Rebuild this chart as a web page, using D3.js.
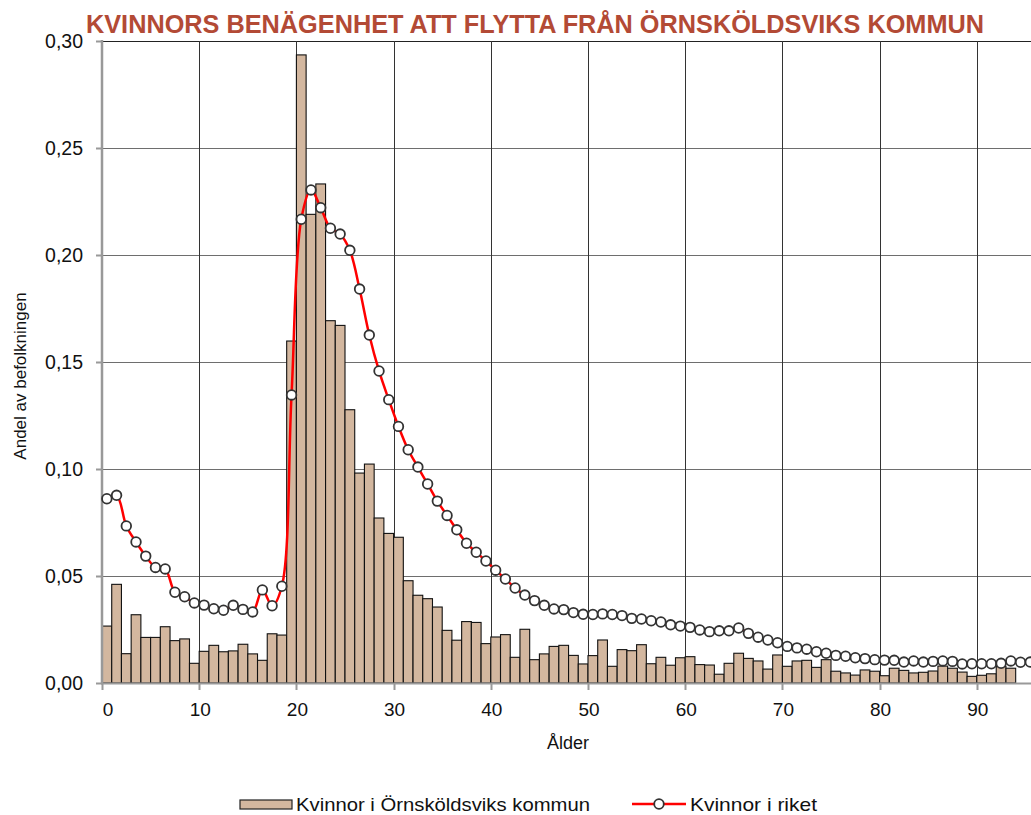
<!DOCTYPE html>
<html>
<head>
<meta charset="utf-8">
<script src="https://cdn.jsdelivr.net/npm/d3@7"></script>
<style>
  body { margin: 0; background: #fff; }
  svg { display: block; }
</style>
</head>
<body>
<div id="chart"></div>
<script>

// andel som flyttar per ålder (0-94), Örnsköldsvik
var kommun = [
    0.0266, 0.0461, 0.0137, 0.0319, 0.0213, 0.0213, 0.0263, 0.0198, 0.0206, 0.0092,
    0.0148, 0.0176, 0.0146, 0.0150, 0.0181, 0.0136, 0.0106, 0.0230, 0.0224, 0.1598,
    0.2935, 0.2190, 0.2332, 0.1693, 0.1671, 0.1277, 0.0981, 0.1023, 0.0771, 0.0699,
    0.0681, 0.0478, 0.0410, 0.0394, 0.0355, 0.0246, 0.0200, 0.0287, 0.0283, 0.0184,
    0.0215, 0.0226, 0.0120, 0.0251, 0.0109, 0.0136, 0.0171, 0.0176, 0.0129, 0.0089,
    0.0128, 0.0201, 0.0078, 0.0156, 0.0151, 0.0179, 0.0090, 0.0120, 0.0083, 0.0118,
    0.0123, 0.0086, 0.0084, 0.0041, 0.0092, 0.0139, 0.0115, 0.0103, 0.0065, 0.0131,
    0.0078, 0.0103, 0.0106, 0.0073, 0.0109, 0.0055, 0.0047, 0.0037, 0.0061, 0.0055,
    0.0034, 0.0069, 0.0059, 0.0047, 0.0050, 0.0056, 0.0079, 0.0069, 0.0051, 0,
    0.0031, 0.0036, 0.0043, 0.0078, 0.0069
];

// riket (0-95)
var riket = [
    0.0861, 0.0877, 0.0734, 0.0659, 0.0593, 0.0540, 0.0533, 0.0424, 0.0403, 0.0374,
    0.0364, 0.0347, 0.0340, 0.0363, 0.0344, 0.0332, 0.0435, 0.0361, 0.0452, 0.1346,
    0.2167, 0.2304, 0.2221, 0.2125, 0.2098, 0.2022, 0.1841, 0.1626, 0.1458, 0.1324,
    0.1199, 0.1090, 0.1009, 0.0930, 0.0850, 0.0783, 0.0716, 0.0653, 0.0611, 0.0570,
    0.0527, 0.0486, 0.0444, 0.0411, 0.0385, 0.0363, 0.0346, 0.0343, 0.0329, 0.0321,
    0.0320, 0.0323, 0.0320, 0.0315, 0.0302, 0.0299, 0.0291, 0.0285, 0.0272, 0.0266,
    0.0260, 0.0248, 0.0240, 0.0244, 0.0244, 0.0257, 0.0232, 0.0214, 0.0201, 0.0188,
    0.0171, 0.0164, 0.0158, 0.0146, 0.0139, 0.0129, 0.0125, 0.0118, 0.0114, 0.0109,
    0.0107, 0.0106, 0.0098, 0.0103, 0.0098, 0.0101, 0.0103, 0.0101, 0.0089, 0.0090,
    0.0090, 0.0090, 0.0092, 0.0103, 0.0097, 0.0098
];

var xTicks = [0, 10, 20, 30, 40, 50, 60, 70, 80, 90];
var yTicks = [0, 0.05, 0.10, 0.15, 0.20, 0.25, 0.30];

var title = "KVINNORS BENÄGENHET ATT FLYTTA FRÅN ÖRNSKÖLDSVIKS KOMMUN";
var legendNames = ["Kvinnor i Örnsköldsviks kommun", "Kvinnor i riket"];

var width = 1031, height = 815;

var svg = d3.select("#chart").append("svg")
    .attr("width", width)
    .attr("height", height)
    .style("font-family", "'Liberation Sans', Arial, sans-serif");

svg.append("rect").attr("width", width).attr("height", height).attr("fill", "#fff");

// plot area runs past the right edge, as in the original
var x = d3.scaleLinear().domain([0, 100]).range([102, 1074]);
var y = d3.scaleLinear().domain([0, 0.30]).range([683, 41]);

var fmt = function (d) { return d3.format(".2f")(d).replace(".", ","); };

// gridlines
svg.append("g")
    .selectAll("line")
    .data(yTicks.slice(1))
    .enter()
    .append("line")
    .attr("x1", x(0)).attr("x2", width)
    .attr("y1", function (d) { return Math.round(y(d)) + 0.5; })
    .attr("y2", function (d) { return Math.round(y(d)) + 0.5; })
    .attr("stroke", function (d) { return d === 0.30 ? "#222" : "#6e6e6e"; })
    .attr("stroke-width", 1);

svg.append("g")
    .selectAll("line")
    .data(xTicks.slice(1))
    .enter()
    .append("line")
    .attr("x1", function (d) { return Math.round(x(d)) + 0.5; })
    .attr("x2", function (d) { return Math.round(x(d)) + 0.5; })
    .attr("y1", y(0.30)).attr("y2", y(0))
    .attr("stroke", "#333")
    .attr("stroke-width", 1);

// bars
svg.append("g")
    .selectAll("rect")
    .data(kommun)
    .enter()
    .filter(function (d) { return d > 0; })
    .append("rect")
    .attr("x", function (d, i) { return x(i); })
    .attr("width", function (d, i) { return x(i + 1) - x(i); })
    .attr("y", function (d) { return y(d); })
    .attr("height", function (d) { return y(0) - y(d); })
    .attr("fill", "#d3b79f")
    .attr("stroke", "#111")
    .attr("stroke-width", 1.1);

// axes
var xAxis = svg.append("g").attr("transform", "translate(0," + y(0) + ")");
xAxis.append("line")
    .attr("x1", x(0) - 1).attr("x2", width)
    .attr("y1", 0.5).attr("y2", 0.5)
    .attr("stroke", "#999").attr("stroke-width", 2);
xAxis.selectAll(".tk")
    .data(xTicks)
    .enter()
    .append("line")
    .attr("class", "tk")
    .attr("x1", function (d) { return Math.round(x(d)) + 0.5; })
    .attr("x2", function (d) { return Math.round(x(d)) + 0.5; })
    .attr("y1", 0).attr("y2", 7)
    .attr("stroke", "#999").attr("stroke-width", 2);
xAxis.selectAll("text")
    .data(xTicks)
    .enter()
    .append("text")
    .attr("x", function (d) { return d === 0 ? x(d) + 6 : x(d) + 1; })
    .attr("y", 33)
    .attr("text-anchor", "middle")
    .attr("font-size", 19)
    .attr("fill", "#111")
    .text(function (d) { return d; });

var yAxis = svg.append("g");
yAxis.append("line")
    .attr("x1", x(0)).attr("x2", x(0))
    .attr("y1", y(0.30) - 1).attr("y2", y(0) + 1)
    .attr("stroke", "#999").attr("stroke-width", 2.5);
yAxis.selectAll(".tk")
    .data(yTicks)
    .enter()
    .append("line")
    .attr("class", "tk")
    .attr("x1", x(0) - 6).attr("x2", x(0))
    .attr("y1", function (d) { return Math.round(y(d)) + 0.5; })
    .attr("y2", function (d) { return Math.round(y(d)) + 0.5; })
    .attr("stroke", "#999").attr("stroke-width", 2);
yAxis.selectAll("text")
    .data(yTicks)
    .enter()
    .append("text")
    .attr("x", 83)
    .attr("y", function (d) { return y(d) + 7; })
    .attr("text-anchor", "end")
    .attr("font-size", 19.5)
    .attr("fill", "#111")
    .text(fmt);

// riket line, smoothed
var line = d3.line()
    .x(function (d, i) { return x(i + 0.5); })
    .y(function (d) { return y(d); })
    .curve(d3.curveCatmullRom.alpha(0.5));

svg.append("path")
    .datum(riket)
    .attr("d", line)
    .attr("fill", "none")
    .attr("stroke", "#ff0000")
    .attr("stroke-width", 2.5);

svg.append("g")
    .selectAll("circle")
    .data(riket)
    .enter()
    .append("circle")
    .attr("cx", function (d, i) { return x(i + 0.5); })
    .attr("cy", function (d) { return y(d); })
    .attr("r", 4.8)
    .attr("fill", "#fff")
    .attr("stroke", "#333")
    .attr("stroke-width", 1.8);

// titles
svg.append("text")
    .attr("x", 535)
    .attr("y", 33)
    .attr("text-anchor", "middle")
    .attr("font-family", "'Liberation Sans Narrow', 'Liberation Sans', Arial, sans-serif")
    .attr("font-weight", "bold")
    .attr("font-size", 26)
    .attr("fill", "#b34a35")
    .attr("textLength", 898)
    .attr("lengthAdjust", "spacingAndGlyphs")
    .text(title);

svg.append("text")
    .attr("transform", "translate(26,376) rotate(-90)")
    .attr("text-anchor", "middle")
    .attr("font-size", 17)
    .attr("fill", "#111")
    .text("Andel av befolkningen");

svg.append("text")
    .attr("x", 568)
    .attr("y", 749)
    .attr("text-anchor", "middle")
    .attr("font-size", 18)
    .attr("fill", "#111")
    .text("Ålder");

// legend
var lg = svg.append("g").attr("font-family", "'Liberation Sans Narrow', 'Liberation Sans', Arial, sans-serif");
lg.append("rect")
    .attr("x", 240).attr("y", 800)
    .attr("width", 52).attr("height", 9)
    .attr("fill", "#d3b79f")
    .attr("stroke", "#222").attr("stroke-width", 1.2);
lg.append("text")
    .attr("x", 296).attr("y", 811)
    .attr("font-size", 19)
    .attr("fill", "#111")
    .attr("textLength", 294)
    .attr("lengthAdjust", "spacingAndGlyphs")
    .text(legendNames[0]);
lg.append("line")
    .attr("x1", 632).attr("x2", 686)
    .attr("y1", 804).attr("y2", 804)
    .attr("stroke", "#ff0000").attr("stroke-width", 2.5);
lg.append("circle")
    .attr("cx", 659).attr("cy", 804).attr("r", 4.8)
    .attr("fill", "#fff").attr("stroke", "#333").attr("stroke-width", 1.8);
lg.append("text")
    .attr("x", 690).attr("y", 811)
    .attr("font-size", 19)
    .attr("fill", "#111")
    .attr("textLength", 127)
    .attr("lengthAdjust", "spacingAndGlyphs")
    .text(legendNames[1]);

</script>
</body>
</html>
